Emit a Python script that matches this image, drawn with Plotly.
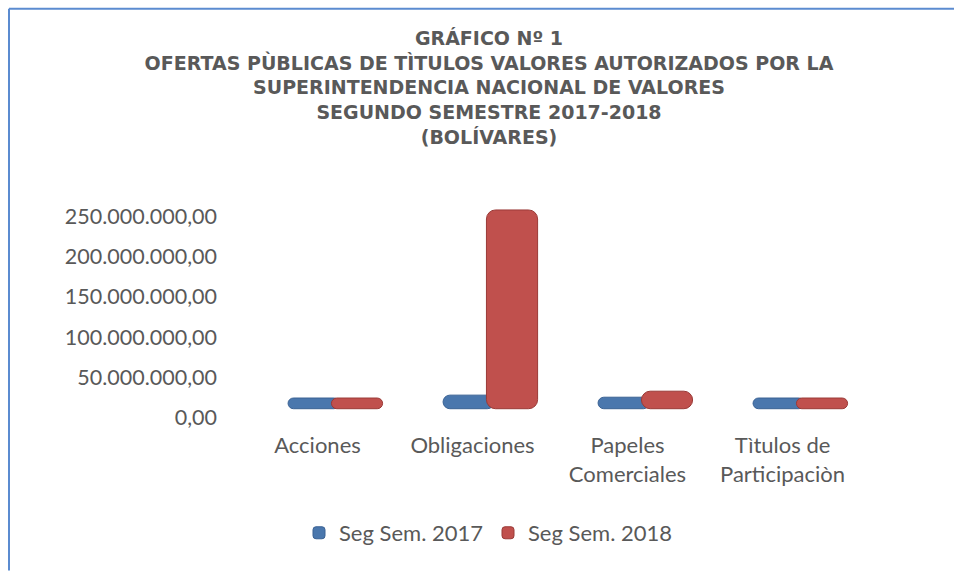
import plotly.graph_objects as go

categories = ["Acciones", "Obligaciones", "Papeles<br>Comerciales", "Tìtulos de<br>Participaciòn"]
series_names = ["Seg Sem. 2017", "Seg Sem. 2018"]
values_2017 = [0, 3_600_000, 1_000_000, 0]
values_2018 = [0, 234_000_000, 8_500_000, 0]
y_ticks = [0, 50_000_000, 100_000_000, 150_000_000, 200_000_000, 250_000_000]

# style constants (3D floor offset and bevel disc thickness of the original chart)
FLOOR = 10_900_000
DISC = 13_300_000

W, H = 954, 578
def fx(px):
    return px / W
def fy(py):
    return (H - py) / H

BLUE = "#4A77AD"
BLUE_LINE = "#3A6294"
RED = "#C0504D"
RED_LINE = "#9A3A37"
GREY = "#595959"
BODY_FONT = "Lato, Open Sans"

fig = go.Figure()
for name, vals, col, lc, off in [
    (series_names[0], values_2017, BLUE, BLUE_LINE, -0.19),
    (series_names[1], values_2018, RED, RED_LINE, 0.09),
]:
    fig.add_trace(go.Bar(
        name=name,
        x=categories,
        y=[v + DISC for v in vals],
        base=FLOOR,
        customdata=vals,
        hovertemplate="%{x}: %{customdata:,.2f}<extra>" + name + "</extra>",
        marker=dict(color=col, line=dict(color=lc, width=1), cornerradius=9),
        width=0.33,
        offset=off,
    ))

y0_px, y250_px = 426, 219
ppu = (y0_px - y250_px) / 250_000_000
top_val = 262_000_000
top_px = y0_px - top_val * ppu

fig.update_layout(
    width=W, height=H,
    margin=dict(l=0, r=0, t=0, b=0),
    paper_bgcolor="white", plot_bgcolor="white",
    separators=",.",
    showlegend=True,
    barmode="overlay",
    title=dict(
        text="GRÁFICO Nº 1<br>OFERTAS PÙBLICAS DE TÌTULOS VALORES AUTORIZADOS POR LA<br>SUPERINTENDENCIA NACIONAL DE VALORES<br>SEGUNDO SEMESTRE 2017-2018<br>(BOLÍVARES)",
        x=fx(489), xanchor="center", y=fy(45), yanchor="top",
        font=dict(family="DejaVu Sans", size=19, color=GREY, weight="bold"),
    ),
    xaxis=dict(
        domain=[fx(240), fx(860)],
        showline=False, showgrid=False, zeroline=False, ticks="",
        tickfont=dict(family=BODY_FONT, size=22, color=GREY),
        ticklabelstandoff=13,
        fixedrange=True,
    ),
    yaxis=dict(
        domain=[fy(y0_px), fy(top_px)],
        range=[0, top_val],
        tickvals=y_ticks,
        tickformat=",.2f",
        showline=False, showgrid=False, zeroline=False, ticks="",
        tickfont=dict(family=BODY_FONT, size=21.5, color=GREY),
        anchor="free", position=fx(217),
        fixedrange=True,
    ),
    legend=dict(
        orientation="h", x=fx(488), xanchor="center", y=fy(545), yanchor="middle",
        font=dict(family=BODY_FONT, size=22, color=GREY),
        itemwidth=30, tracegroupgap=0,
    ),
    shapes=[
        dict(type="line", xref="paper", yref="paper", x0=fx(9), x1=1.01, y0=fy(5), y1=fy(5),
             line=dict(color="#5B8BD0", width=2)),
        dict(type="line", xref="paper", yref="paper", x0=fx(9), x1=fx(9), y0=fy(5), y1=-0.01,
             line=dict(color="#5B8BD0", width=2)),
    ],
)

fig.write_html(
    "out.html",
    config={"displayModeBar": False},
    post_script="document.body.style.margin='0';document.body.style.overflow='hidden';",
)
